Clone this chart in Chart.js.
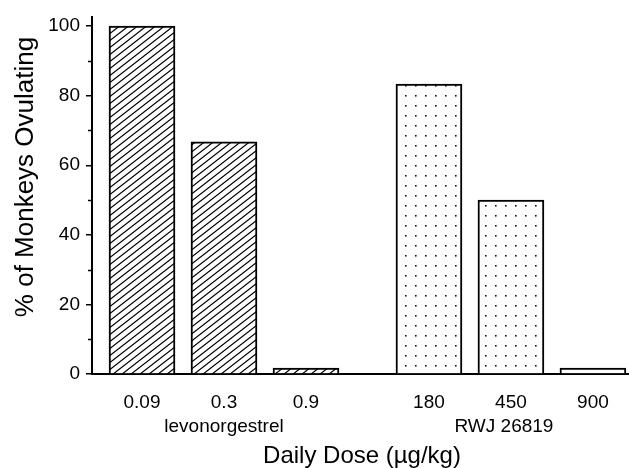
<!DOCTYPE html>
<html>
<head>
<meta charset="utf-8">
<script src="https://cdn.jsdelivr.net/npm/chart.js@4/dist/chart.umd.min.js"></script>
<style>
  html, body { margin: 0; padding: 0; background: #fff; }
  #wrap { width: 629px; height: 468px; }
</style>
</head>
<body>
<div id="wrap"><canvas id="chart" width="629" height="468"></canvas></div>
<script>
const levoDoses = ['0.09', '0.3', '0.9'];
const levoValues = [100, 66.7, 1.7];
const rwjDoses = ['180', '450', '900'];
const rwjValues = [83.3, 50, 1.7];
const groupNames = ['levonorgestrel', 'RWJ 26819'];
const yTicks = [0, 20, 40, 60, 80, 100];
const yMinorTicks = [10, 30, 50, 70, 90];

const FONT = "'Liberation Sans', Arial, Helvetica, sans-serif";
const GROUP_GAP = 0.5;

// x slot for each bar: groups side by side with a small gap between them
const levoX = levoDoses.map((d, i) => i);
const rwjX = rwjDoses.map((d, i) => i + levoDoses.length + GROUP_GAP);
const allX = levoX.concat(rwjX);
const allDoses = levoDoses.concat(rwjDoses);

function hatchPattern() {
  const c = document.createElement('canvas');
  c.width = 9; c.height = 7;
  const g = c.getContext('2d');
  g.fillStyle = '#fff';
  g.fillRect(0, 0, 9, 7);
  g.strokeStyle = '#000';
  g.lineWidth = 1.2;
  g.beginPath();
  g.moveTo(-9, 14); g.lineTo(18, -7);
  g.moveTo(-18, 14); g.lineTo(9, -7);
  g.moveTo(0, 14); g.lineTo(27, -7);
  g.stroke();
  return g.createPattern(c, 'repeat');
}

function dotPattern() {
  const c = document.createElement('canvas');
  c.width = 10; c.height = 10;
  const g = c.getContext('2d');
  g.fillStyle = '#fff';
  g.fillRect(0, 0, 10, 10);
  g.fillStyle = '#111';
  g.fillRect(5, 5, 1.6, 1.6);
  return g.createPattern(c, 'repeat');
}

const extras = {
  id: 'extras',
  afterDraw(chart) {
    const ctx = chart.ctx;
    const xs = chart.scales.x, ys = chart.scales.y;
    const left = chart.chartArea.left;
    ctx.save();
    // minor y ticks
    ctx.strokeStyle = '#000';
    ctx.lineWidth = 1.5;
    yMinorTicks.forEach(v => {
      const py = Math.round(ys.getPixelForValue(v)) + 0.5;
      ctx.beginPath();
      ctx.moveTo(left - 4, py);
      ctx.lineTo(left, py);
      ctx.stroke();
    });
    ctx.fillStyle = '#000';
    // group labels under the middle dose of each group
    ctx.font = '19px ' + FONT;
    ctx.textAlign = 'center';
    ctx.textBaseline = 'alphabetic';
    ctx.fillText(groupNames[0], xs.getPixelForValue(levoX[1]), 432);
    ctx.fillText(groupNames[1], xs.getPixelForValue(rwjX[1]) - 7, 432);
    // axis titles
    ctx.font = '24px ' + FONT;
    ctx.fillText('Daily Dose (\u00b5g/kg)', 362, 463);
    ctx.translate(33, 177);
    ctx.rotate(-Math.PI / 2);
    ctx.font = '26px ' + FONT;
    ctx.fillText('% of Monkeys Ovulating', 0, 0);
    ctx.restore();
  }
};

new Chart(document.getElementById('chart'), {
  type: 'bar',
  data: {
    datasets: [
      {
        label: groupNames[0],
        data: levoValues.map((v, i) => ({ x: levoX[i], y: v })),
        backgroundColor: hatchPattern(),
        borderColor: '#000',
        borderWidth: 2,
        barThickness: 66,
        grouped: false
      },
      {
        label: groupNames[1],
        data: rwjValues.map((v, i) => ({ x: rwjX[i], y: v })),
        backgroundColor: dotPattern(),
        borderColor: '#000',
        borderWidth: 2,
        barThickness: 66,
        grouped: false
      }
    ]
  },
  options: {
    responsive: false,
    animation: false,
    layout: { padding: { top: 14, left: 0, right: 0, bottom: 0 } },
    plugins: { legend: { display: false }, tooltip: { enabled: false } },
    scales: {
      x: {
        type: 'linear',
        min: -0.61,
        max: 5.94,
        offset: false,
        grid: { display: false, drawTicks: false },
        border: { display: true, color: '#000', width: 2 },
        afterBuildTicks: s => { s.ticks = allX.map(v => ({ value: v })); },
        afterFit: s => { s.height = 94; },
        ticks: {
          autoSkip: false,
          maxRotation: 0,
          padding: 17,
          color: '#000',
          font: { family: FONT, size: 19 },
          callback: (v, i) => allDoses[i]
        }
      },
      y: {
        min: 0,
        max: 102.5,
        grid: { drawOnChartArea: false, drawTicks: true, tickLength: 6, color: '#000', lineWidth: 1.5 },
        border: { display: true, color: '#000', width: 2 },
        afterBuildTicks: s => { s.ticks = yTicks.map(v => ({ value: v })); },
        afterFit: s => { s.width = 92; },
        ticks: {
          padding: 6,
          color: '#000',
          font: { family: FONT, size: 19 }
        }
      }
    }
  },
  plugins: [extras]
});
</script>
</body>
</html>
